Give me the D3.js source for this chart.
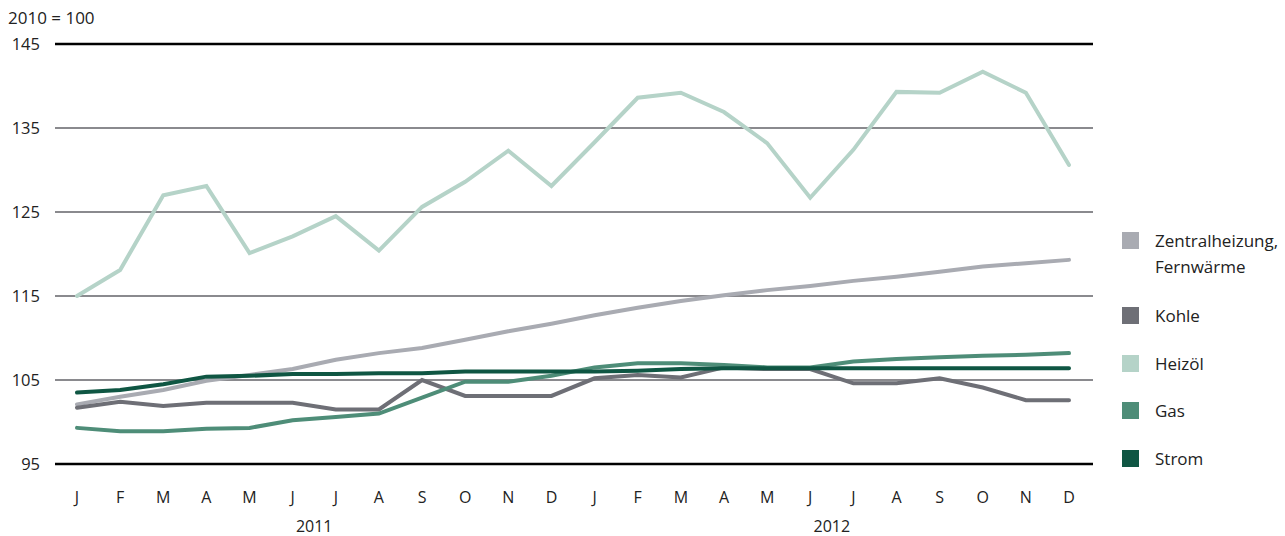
<!DOCTYPE html>
<html><head><meta charset="utf-8">
<script src="https://cdn.jsdelivr.net/npm/d3@7"></script>
<style>
html,body{margin:0;padding:0;background:#fff;}
text{font-family:"Open Sans","Liberation Sans",sans-serif;fill:#222;}
</style></head>
<body><svg id="c" width="1285" height="536"></svg>
<script>
const months = ["J","F","M","A","M","J","J","A","S","O","N","D","J","F","M","A","M","J","J","A","S","O","N","D"];
const years = ["2011","2012"];
const yTicks = [95,105,115,125,135,145];
const seriesNames = ["Zentralheizung, Fernwärme","Kohle","Heizöl","Gas","Strom"];
const seriesColors = ["#a9abb2","#6e6f76","#b5d3c8","#4e8d78","#0f5643"];
const zentral = [102.1,103.0,103.8,104.9,105.6,106.3,107.4,108.2,108.8,109.8,110.8,111.7,112.7,113.6,114.4,115.1,115.7,116.2,116.8,117.3,117.9,118.5,118.9,119.3];
const kohle = [101.7,102.4,101.9,102.3,102.3,102.3,101.5,101.5,105.0,103.1,103.1,103.1,105.2,105.6,105.3,106.5,106.3,106.3,104.6,104.6,105.2,104.1,102.6,102.6];
const heizoel = [115.0,118.1,127.0,128.1,120.1,122.1,124.5,120.4,125.6,128.6,132.3,128.1,133.3,138.6,139.2,136.9,133.2,126.7,132.4,139.3,139.2,141.7,139.2,130.6];
const gas = [99.3,98.9,98.9,99.2,99.3,100.2,100.6,101.0,102.9,104.8,104.8,105.5,106.5,107.0,107.0,106.8,106.5,106.5,107.2,107.5,107.7,107.9,108.0,108.2];
const strom = [103.5,103.8,104.5,105.4,105.5,105.7,105.7,105.8,105.8,106.0,106.0,106.0,106.0,106.1,106.3,106.4,106.4,106.4,106.4,106.4,106.4,106.4,106.4,106.4];
const allSeries = [zentral,kohle,heizoel,gas,strom];
const drawOrder = [0,2,1,3,4];

const svg = d3.select("#c");
const x = d3.scalePoint().domain(d3.range(months.length)).range([77,1069]);
const y = d3.scaleLinear().domain([95,145]).range([464,44]);

// gridlines
svg.append("g").selectAll("line").data(yTicks).join("line")
  .attr("x1",55).attr("x2",1093)
  .attr("y1",d=>y(d)).attr("y2",d=>y(d))
  .attr("stroke",d=>(d===95||d===145)?"#000":"#8a8a8e")
  .attr("stroke-width",d=>(d===95||d===145)?2.5:2);

// y labels
svg.append("g").selectAll("text").data(yTicks).join("text")
  .attr("x",40).attr("y",d=>y(d)+6).attr("text-anchor","end")
  .style("font-size","16.5px").text(d=>d);
svg.append("text").attr("x",8).attr("y",24).style("font-size","17px").text("2010 = 100");

// x labels
svg.append("g").selectAll("text").data(months).join("text")
  .attr("x",(d,i)=>x(i)).attr("y",503).attr("text-anchor","middle")
  .style("font-size","16px").text(d=>d);
svg.append("g").selectAll("text").data(years).join("text")
  .attr("x",(d,i)=>(x(i*12)+x(i*12+11))/2).attr("y",532).attr("text-anchor","middle")
  .style("font-size","16px").text(d=>d);

// lines
const line = d3.line().x((d,i)=>x(i)).y(d=>y(d));
svg.append("g").selectAll("path").data(drawOrder).join("path")
  .attr("d",k=>line(allSeries[k]))
  .attr("fill","none").attr("stroke",k=>seriesColors[k])
  .attr("stroke-width",4).attr("stroke-linejoin","miter").attr("stroke-linecap","round");

// legend
const legY = [232,307,355,402,450];
const lg = svg.append("g");
seriesNames.forEach((n,i)=>{
  lg.append("rect").attr("x",1122).attr("y",legY[i]).attr("width",17).attr("height",17).attr("fill",seriesColors[i]);
  const parts = n.includes(", ") ? [n.split(", ")[0]+",", n.split(", ")[1]] : [n];
  parts.forEach((p,j)=>{
    lg.append("text").attr("x",1155).attr("y",legY[i]+15+j*26)
      .style("font-size","17px").text(p);
  });
});
</script></body></html>
